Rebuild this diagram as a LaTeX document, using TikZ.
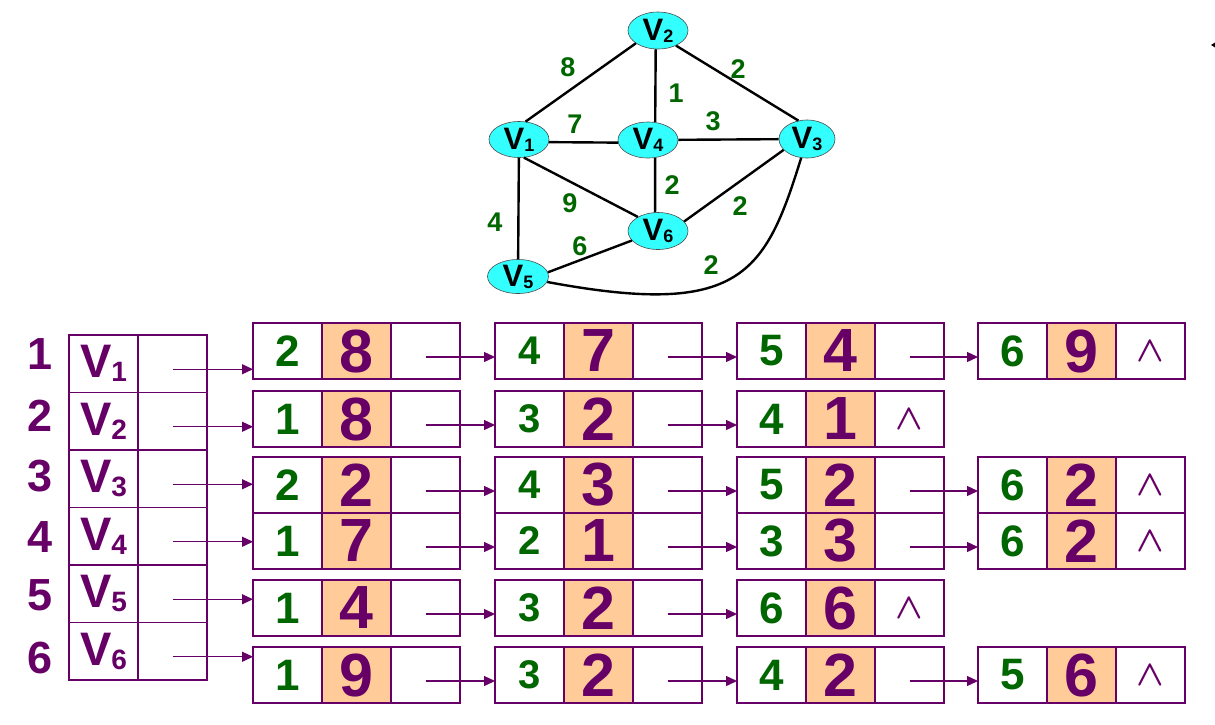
\documentclass[tikz,border=0pt]{standalone}
\usepackage{fontspec}
\usepackage{graphicx}
\setmainfont{Liberation Sans}
\usetikzlibrary{arrows.meta,calc,shapes.geometric}
\definecolor{pur}{HTML}{660066}
\definecolor{dgr}{HTML}{006600}
\definecolor{org}{HTML}{FFCC99}
\definecolor{cyn}{HTML}{33FFFF}
\newcommand\fs[1]{\fontsize{#1}{#1}\selectfont}
\newcommand\gA{\fs{44}\color{dgr}}
\newcommand\gB{\fs{40}\color{dgr}}
\newcommand\nilsym{\color{pur}\scalebox{3.6}{\boldmath$\wedge$}}
\newcommand\gv[1]{V\raisebox{-2pt}{\fs{18}#1}}
\newcommand\tv[1]{V\raisebox{-4pt}{\fs{28}#1}}
\newcommand\lbox[6]{%
  \node[cellw,anchor=north west] (#1a) at (#2,#3) {#4};
  \node[cello,anchor=north west] (#1b) at (#1a.north east) {\fs{61}\color{pur}#5};
  \node[cellw,anchor=north west] (#1c) at (#1b.north east) {#6};}
\newcommand\larr[2]{\draw[arr] ($(#1c.center)+(0,6)$) -- ($(#1c.center -| #2a.west)+(0,6)$);}
\newcommand\tarr[2]{\draw[arr] ($(#1.center)+(0,5.5)$) -- ($(#1.center -| #2a.west)+(0,5.5)$);}
\begin{document}
\begin{tikzpicture}[x=1pt,y=-1pt,
  every node/.style={font=\bfseries},
  vert/.style={ellipse,draw=black!70,line width=0.6pt,fill=cyn,inner sep=0pt,minimum width=60pt,minimum height=36pt,font=\bfseries\fs{31}},
  edge/.style={line width=2.4pt,black},
  wlab/.style={text=dgr,font=\bfseries\fs{27}},
  cellw/.style={draw=pur,line width=1.2pt,minimum width=69pt,minimum height=56pt,inner sep=0pt,outer sep=0pt},
  cello/.style={cellw,fill=org},
  arr/.style={pur,line width=1.3pt,-{Triangle[length=11pt,width=10pt]}},
  idx/.style={text=pur,font=\bfseries\fs{45}},
  tcell/.style={draw=pur,line width=1.2pt,minimum width=69pt,minimum height=57.5pt,inner sep=0pt,outer sep=0pt,text=pur,font=\bfseries\fs{47}},
]
\useasboundingbox[fill=white] (0,0) rectangle (1215,724);

% ---------- graph ----------
\node[vert] (v1) at (519,139.5) {\gv{1}};
\node[vert,minimum height=37pt] (v2) at (658,30.5) {\gv{2}};
\node[vert,minimum width=56pt,minimum height=38pt] (v3) at (807,139) {\gv{3}};
\node[vert] (v4) at (648,140) {\gv{4}};
\node[vert,minimum width=61pt,minimum height=34pt] (v5) at (518,276.5) {\gv{5}};
\node[vert,minimum height=37pt] (v6) at (658,231) {\gv{6}};

\draw[edge] (v1.70) -- (v2.210);
\draw[edge] (v2.-40) -- (v3.115);
\draw[edge] (v2.263) -- (v4.68);
\draw[edge] (v1.-5) -- (v4.185);
\draw[edge] (v4) -- (v3);
\draw[edge] (v4.-68) -- (v6.99);
\draw[edge] (v1.-75) -- (v6.145);
\draw[edge] (v3.205) -- (v6.20);
\draw[edge] (v1) -- (v5);
\draw[edge] (v5.8) -- (v6.200);
\draw[edge] (v5) .. controls (740,318) and (765,275) .. (v3);

\node[wlab] (w12) at (568,67) {8};
\node[wlab] (w23) at (738,69) {2};
\node[wlab] (w24) at (676,93) {1};
\node[wlab] (w14) at (575,124) {7};
\node[wlab] (w43) at (713,121) {3};
\node[wlab] (w46) at (672,185) {2};
\node[wlab] (w16) at (570,203) {9};
\node[wlab] (w36) at (740,206) {2};
\node[wlab] (w15) at (495,222) {4};
\node[wlab] (w56) at (580,246) {6};
\node[wlab] (w53) at (711,265) {2};

% small mark top right
\fill (1211,45) -- (1215,42.5) -- (1215,47.5) -- cycle;

% ---------- index numbers ----------
\node[idx] (i1) at (40,354) {1};
\node[idx] (i2) at (40,416) {2};
\node[idx] (i3) at (40,476) {3};
\node[idx] (i4) at (40,537) {4};
\node[idx] (i5) at (40,595) {5};
\node[idx] (i6) at (40,658) {6};

% ---------- vertex table ----------
\foreach \k [count=\i from 0] in {1,...,6}{
  \node[tcell,anchor=north west] (t\k a) at (69,335+57.5*\i) {\tv{\k}};
  \node[tcell,anchor=north west] (t\k b) at (t\k a.north east) {};
}

% ---------- adjacency lists ----------
\lbox{r1x1}{253}{323}{\gA 2}{8}{}
\lbox{r1x2}{495}{323}{\gB 4}{7}{}
\lbox{r1x3}{737}{323}{\gA 5}{4}{}
\lbox{r1x4}{978}{323}{\gA 6}{9}{\nilsym}

\lbox{r2x1}{253}{391}{\gA 1}{8}{}
\lbox{r2x2}{495}{391}{\gB 3}{2}{}
\lbox{r2x3}{737}{391}{\gA 4}{1}{\nilsym}

\lbox{r3x1}{253}{457}{\gA 2}{2}{}
\lbox{r3x2}{495}{457}{\gB 4}{3}{}
\lbox{r3x3}{737}{457}{\gA 5}{2}{}
\lbox{r3x4}{978}{457}{\gA 6}{2}{\nilsym}

\lbox{r4x1}{253}{513}{\gA 1}{7}{}
\lbox{r4x2}{495}{513}{\gB 2}{1}{}
\lbox{r4x3}{737}{513}{\gA 3}{3}{}
\lbox{r4x4}{978}{513}{\gA 6}{2}{\nilsym}

\lbox{r5x1}{253}{580}{\gA 1}{4}{}
\lbox{r5x2}{495}{580}{\gB 3}{2}{}
\lbox{r5x3}{737}{580}{\gA 6}{6}{\nilsym}

\lbox{r6x1}{253}{647}{\gA 1}{9}{}
\lbox{r6x2}{495}{647}{\gB 3}{2}{}
\lbox{r6x3}{737}{647}{\gA 4}{2}{}
\lbox{r6x4}{978}{647}{\gA 5}{6}{\nilsym}

% arrows from table
\tarr{t1b}{r1x1}
\tarr{t2b}{r2x1}
\tarr{t3b}{r3x1}
\tarr{t4b}{r4x1}
\tarr{t5b}{r5x1}
\tarr{t6b}{r6x1}

% arrows between list boxes
\larr{r1x1}{r1x2}\larr{r1x2}{r1x3}\larr{r1x3}{r1x4}
\larr{r2x1}{r2x2}\larr{r2x2}{r2x3}
\larr{r3x1}{r3x2}\larr{r3x2}{r3x3}\larr{r3x3}{r3x4}
\larr{r4x1}{r4x2}\larr{r4x2}{r4x3}\larr{r4x3}{r4x4}
\larr{r5x1}{r5x2}\larr{r5x2}{r5x3}
\larr{r6x1}{r6x2}\larr{r6x2}{r6x3}\larr{r6x3}{r6x4}
\end{tikzpicture}
\end{document}
